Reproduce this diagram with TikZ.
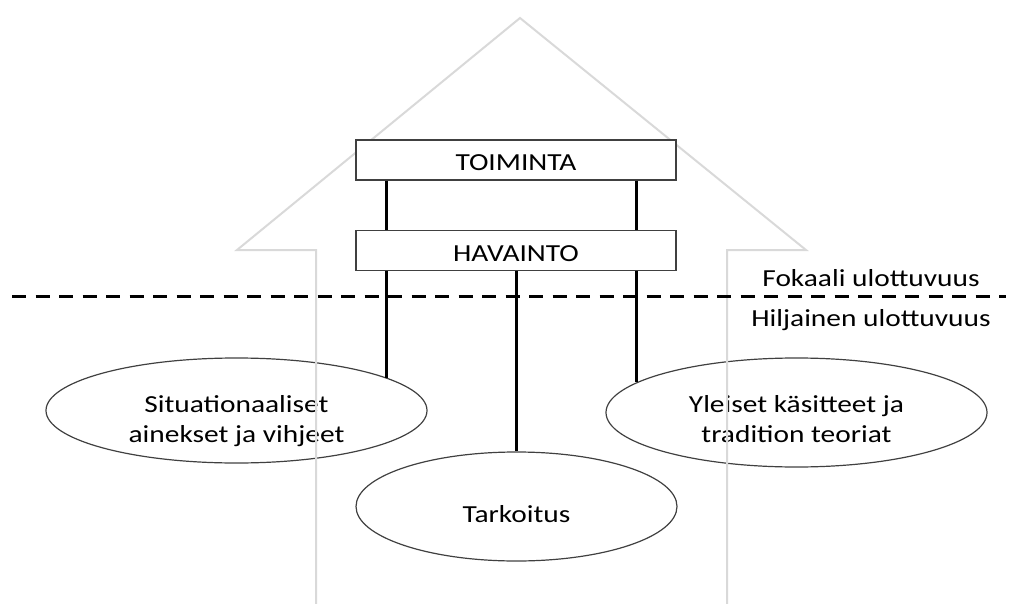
\documentclass[tikz,border=0pt]{standalone}
\usepackage{fontspec}
\setmainfont{Carlito}[FakeStretch=1.2]
\usetikzlibrary{shapes.geometric}
\definecolor{arrowgray}{HTML}{D9D9D9}
\definecolor{edgegray}{HTML}{404040}
\tikzset{
  arrowline/.style={draw=arrowgray, line width=2pt, line join=miter},
  labelbox/.style={draw=edgegray, fill=white, line width=1.3pt, minimum width=320pt, minimum height=40pt, inner sep=0pt, text height=21.4pt, text depth=0pt, font=\fontsize{24.5}{30}\selectfont},
  oval/.style={ellipse, draw=edgegray, line width=1.2pt, inner sep=0pt},
  ovaltext/.style={anchor=base, inner sep=0pt, font=\fontsize{24.5}{30}\selectfont},
  link/.style={line width=3pt, black},
  divider/.style={line width=3pt, black, dash pattern=on 14pt off 9.5pt},
  dimtext/.style={anchor=base, inner sep=0pt, font=\fontsize{24.5}{30}\selectfont}
}
\begin{document}
\begin{tikzpicture}[x=1pt,y=-1pt]
\useasboundingbox (0,0) rectangle (1011,604);
% ellipses
\node[oval, minimum width=381pt, minimum height=105pt] (lefte) at (236.5,410.5) {};
\node[oval, minimum width=381pt, minimum height=109pt] (righte) at (796.5,412.5) {};
\node[oval, minimum width=321pt, minimum height=109pt] (mide) at (516.5,506.5) {};
\node[ovaltext] (l1) at (236.5,412) {Situationaaliset};
\node[ovaltext] (l2) at (236.5,442) {ainekset ja vihjeet};
\node[ovaltext] (r1) at (796.5,412) {Yleiset käsitteet ja};
\node[ovaltext] (r2) at (796.5,442) {tradition teoriat};
\node[ovaltext] (m1) at (516.5,522) {Tarkoitus};
% big arrow outline
\coordinate (a1) at (316,606);
\coordinate (a2) at (316,250);
\coordinate (a3) at (237,250);
\coordinate (tip) at (520,18);
\coordinate (a5) at (806,250);
\coordinate (a6) at (727,250);
\coordinate (a7) at (727,606);
\draw[arrowline] (a1) -- (a2) -- (a3) -- (tip) -- (a5) -- (a6) -- (a7);
% boxes
\node[labelbox] (toi) at (516,160) {TOIMINTA};
\node[labelbox] (hav) at (516,250.5) {HAVAINTO};
% x positions of links
\coordinate (lx) at (386.5,0);
\coordinate (rx) at (636.7,0);
\draw[link] (toi.south -| lx) -- (hav.north -| lx);
\draw[link] (toi.south -| rx) -- (hav.north -| rx);
% divider
\coordinate (d1) at (12,296);
\coordinate (d2) at (1006,296);
\draw[divider] (d1) -- (d2);
\draw[link] (hav.south -| lx) -- (lx |- lefte.12);
\draw[link] (hav.south -| rx) -- (rx |- righte.169.5);
\draw[link] (hav.south -| mide.north) -- (mide.north);
% dimension labels
\node[dimtext] (fok) at (871,286) {Fokaali ulottuvuus};
\node[dimtext] (hil) at (871,326) {Hiljainen ulottuvuus};
\end{tikzpicture}
\end{document}
